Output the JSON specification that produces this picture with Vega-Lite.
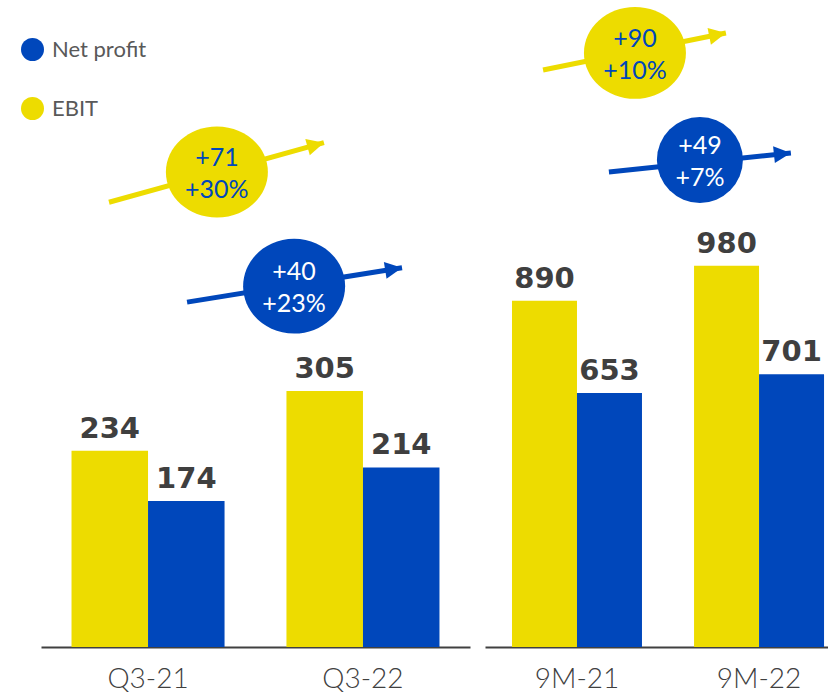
{
  "$schema": "https://vega.github.io/schema/vega-lite/v6.json",
  "background": "white",
  "padding": {"left": 21, "top": 0, "right": 0, "bottom": 0},
  "spacing": 15,
  "bounds": "flush",
  "config": {"view": {"stroke": null}},
  "datasets": {
    "bars": [
      {"panel": "Q3", "period": "Q3-21", "series": "EBIT", "value": 234},
      {"panel": "Q3", "period": "Q3-21", "series": "Net profit", "value": 174},
      {"panel": "Q3", "period": "Q3-22", "series": "EBIT", "value": 305},
      {"panel": "Q3", "period": "Q3-22", "series": "Net profit", "value": 214},
      {"panel": "9M", "period": "9M-21", "series": "EBIT", "value": 890},
      {"panel": "9M", "period": "9M-21", "series": "Net profit", "value": 653},
      {"panel": "9M", "period": "9M-22", "series": "EBIT", "value": 980},
      {"panel": "9M", "period": "9M-22", "series": "Net profit", "value": 701}
    ],
    "notes": [
      {"panel": "Q3", "series": "EBIT", "label": "+71\n+30%", "cx": 0.82, "cy": 566, "ax": 0.317, "ay": 530, "bx": 1.319, "by": 601},
      {"panel": "Q3", "series": "Net profit", "label": "+40\n+23%", "cx": 1.18, "cy": 430, "ax": 0.681, "ay": 411, "bx": 1.683, "by": 452},
      {"panel": "9M", "series": "EBIT", "label": "+90\n+10%", "cx": 0.824, "cy": 1527, "ax": 0.319, "ay": 1483, "bx": 1.324, "by": 1578},
      {"panel": "9M", "series": "Net profit", "label": "+49\n+7%", "cx": 1.181, "cy": 1252, "ax": 0.681, "ay": 1221, "bx": 1.681, "by": 1270}
    ]
  },
  "hconcat": [
    {
      "width": 429,
      "height": 647,
      "layer": [
        {
          "data": {"name": "bars"},
          "transform": [{"filter": "datum.panel === 'Q3'"}],
          "encoding": {
            "x": {"field": "period", "type": "nominal", "sort": null, "scale": {"paddingInner": 0.288, "paddingOuter": 0.142},
              "axis": {"title": null, "labelAngle": 0, "ticks": false, "domainColor": "#404040", "domainWidth": 2, "labelPadding": 18, "labelFont": "Lato", "labelFontWeight": 300, "labelFontSize": 28, "labelColor": "#404040"}},
            "xOffset": {"field": "series", "type": "nominal", "scale": {"domain": ["EBIT", "Net profit"], "paddingInner": 0, "paddingOuter": 0}},
            "y": {"field": "value", "type": "quantitative", "scale": {"domain": [0, 771], "nice": false, "zero": true}, "axis": null}
          },
          "layer": [
            {
              "mark": {"type": "bar"},
              "encoding": {
                "color": {"field": "series", "type": "nominal", "scale": {"domain": ["Net profit", "EBIT"], "range": ["#0047BB", "#EDDC00"]},
                  "legend": {"orient": "none", "legendX": -20, "legendY": 38, "title": null, "symbolType": "circle", "symbolSize": 529, "labelFont": "Lato", "labelFontSize": 22, "labelColor": "#595959", "labelOffset": 8, "rowPadding": 36, "padding": 0, "symbolStrokeWidth": 0, "direction": "vertical"}}
              }
            },
            {
              "mark": {"type": "text", "baseline": "alphabetic", "dy": -13, "font": "DejaVu Sans", "fontWeight": "bold", "fontSize": 29, "color": "#3f3f3f"},
              "encoding": {"text": {"field": "value", "type": "quantitative"}}
            }
          ]
        },
        {
          "data": {"name": "notes"},
          "transform": [{"filter": "datum.panel === 'Q3'"}],
          "layer": [
            {
              "mark": {"type": "rule", "strokeWidth": 5, "strokeCap": "butt"},
              "encoding": {
                "x": {"field": "ax", "type": "quantitative", "scale": {"domain": [0, 2], "nice": false, "zero": false}, "axis": null},
                "x2": {"field": "bx"},
                "y": {"field": "ay", "type": "quantitative", "scale": {"domain": [0, 771], "nice": false}, "axis": null},
                "y2": {"field": "by"},
                "color": {"condition": {"test": "datum.series === 'EBIT'", "value": "#EDDC00"}, "value": "#0047BB"}
              }
            },
            {
              "transform": [{"filter": "datum.series === 'EBIT'"}],
              "mark": {"type": "point", "filled": true, "shape": "M-2,-1L0,0L-2,1Z", "size": 289, "angle": 344.65, "color": "#EDDC00", "opacity": 1, "strokeWidth": 0},
              "encoding": {
                "x": {"field": "bx", "type": "quantitative", "scale": {"domain": [0, 2], "nice": false, "zero": false}, "axis": null},
                "y": {"field": "by", "type": "quantitative", "scale": {"domain": [0, 771], "nice": false}, "axis": null}
              }
            },
            {
              "transform": [{"filter": "datum.series === 'Net profit'"}],
              "mark": {"type": "point", "filled": true, "shape": "M-2,-1L0,0L-2,1Z", "size": 289, "angle": 351, "color": "#0047BB", "opacity": 1, "strokeWidth": 0},
              "encoding": {
                "x": {"field": "bx", "type": "quantitative", "scale": {"domain": [0, 2], "nice": false, "zero": false}, "axis": null},
                "y": {"field": "by", "type": "quantitative", "scale": {"domain": [0, 771], "nice": false}, "axis": null}
              }
            },
            {
              "transform": [{"filter": "datum.series === 'EBIT'"}],
              "mark": {"type": "point", "filled": true, "shape": "M-1,0A1,0.892,0,1,1,1,0A1,0.892,0,1,1,-1,0Z", "size": 10404, "color": "#EDDC00", "opacity": 1, "strokeWidth": 0},
              "encoding": {
                "x": {"field": "cx", "type": "quantitative", "scale": {"domain": [0, 2], "nice": false, "zero": false}, "axis": null},
                "y": {"field": "cy", "type": "quantitative", "scale": {"domain": [0, 771], "nice": false}, "axis": null}
              }
            },
            {
              "transform": [{"filter": "datum.series === 'Net profit'"}],
              "mark": {"type": "point", "filled": true, "shape": "M-1,0A1,0.93,0,1,1,1,0A1,0.93,0,1,1,-1,0Z", "size": 10404, "color": "#0047BB", "opacity": 1, "strokeWidth": 0},
              "encoding": {
                "x": {"field": "cx", "type": "quantitative", "scale": {"domain": [0, 2], "nice": false, "zero": false}, "axis": null},
                "y": {"field": "cy", "type": "quantitative", "scale": {"domain": [0, 771], "nice": false}, "axis": null}
              }
            },
            {
              "mark": {"type": "text", "font": "Lato", "fontSize": 25, "lineBreak": "\n", "lineHeight": 32, "baseline": "middle", "align": "center", "dy": -14},
              "encoding": {
                "x": {"field": "cx", "type": "quantitative", "scale": {"domain": [0, 2], "nice": false, "zero": false}, "axis": null},
                "y": {"field": "cy", "type": "quantitative", "scale": {"domain": [0, 771], "nice": false}, "axis": null},
                "text": {"field": "label"},
                "color": {"condition": {"test": "datum.series === 'EBIT'", "value": "#0047BB"}, "value": "white"}
              }
            }
          ]
        }
      ],
      "resolve": {"scale": {"x": "independent"}}
    },
    {
      "width": 343,
      "height": 647,
      "layer": [
        {
          "data": {"name": "bars"},
          "transform": [{"filter": "datum.panel === '9M'"}],
          "encoding": {
            "x": {"field": "period", "type": "nominal", "sort": null, "scale": {"paddingInner": 0.286, "paddingOuter": 0.085, "align": 0.872},
              "axis": {"title": null, "labelAngle": 0, "ticks": false, "domainColor": "#404040", "domainWidth": 2, "labelPadding": 18, "labelFont": "Lato", "labelFontWeight": 300, "labelFontSize": 28, "labelColor": "#404040"}},
            "xOffset": {"field": "series", "type": "nominal", "scale": {"domain": ["EBIT", "Net profit"], "paddingInner": 0, "paddingOuter": 0}},
            "y": {"field": "value", "type": "quantitative", "scale": {"domain": [0, 1663], "nice": false, "zero": true}, "axis": null}
          },
          "layer": [
            {
              "mark": {"type": "bar"},
              "encoding": {
                "color": {"field": "series", "type": "nominal", "scale": {"domain": ["Net profit", "EBIT"], "range": ["#0047BB", "#EDDC00"]},
                  "legend": {"orient": "none", "legendX": -20, "legendY": 38, "title": null, "symbolType": "circle", "symbolSize": 529, "labelFont": "Lato", "labelFontSize": 22, "labelColor": "#595959", "labelOffset": 8, "rowPadding": 36, "padding": 0, "symbolStrokeWidth": 0, "direction": "vertical"}}
              }
            },
            {
              "mark": {"type": "text", "baseline": "alphabetic", "dy": -13, "font": "DejaVu Sans", "fontWeight": "bold", "fontSize": 29, "color": "#3f3f3f"},
              "encoding": {"text": {"field": "value", "type": "quantitative"}}
            }
          ]
        },
        {
          "data": {"name": "notes"},
          "transform": [{"filter": "datum.panel === '9M'"}],
          "layer": [
            {
              "mark": {"type": "rule", "strokeWidth": 5, "strokeCap": "butt"},
              "encoding": {
                "x": {"field": "ax", "type": "quantitative", "scale": {"domain": [0, 1.885], "nice": false, "zero": false}, "axis": null},
                "x2": {"field": "bx"},
                "y": {"field": "ay", "type": "quantitative", "scale": {"domain": [0, 1663], "nice": false}, "axis": null},
                "y2": {"field": "by"},
                "color": {"condition": {"test": "datum.series === 'EBIT'", "value": "#EDDC00"}, "value": "#0047BB"}
              }
            },
            {
              "transform": [{"filter": "datum.series === 'EBIT'"}],
              "mark": {"type": "point", "filled": true, "shape": "M-2,-1L0,0L-2,1Z", "size": 289, "angle": 348.57, "color": "#EDDC00", "opacity": 1, "strokeWidth": 0},
              "encoding": {
                "x": {"field": "bx", "type": "quantitative", "scale": {"domain": [0, 1.885], "nice": false, "zero": false}, "axis": null},
                "y": {"field": "by", "type": "quantitative", "scale": {"domain": [0, 1663], "nice": false}, "axis": null}
              }
            },
            {
              "transform": [{"filter": "datum.series === 'Net profit'"}],
              "mark": {"type": "point", "filled": true, "shape": "M-2,-1L0,0L-2,1Z", "size": 289, "angle": 354.04, "color": "#0047BB", "opacity": 1, "strokeWidth": 0},
              "encoding": {
                "x": {"field": "bx", "type": "quantitative", "scale": {"domain": [0, 1.885], "nice": false, "zero": false}, "axis": null},
                "y": {"field": "by", "type": "quantitative", "scale": {"domain": [0, 1663], "nice": false}, "axis": null}
              }
            },
            {
              "transform": [{"filter": "datum.series === 'EBIT'"}],
              "mark": {"type": "point", "filled": true, "shape": "M-1,0A1,0.9,0,1,1,1,0A1,0.9,0,1,1,-1,0Z", "size": 10404, "color": "#EDDC00", "opacity": 1, "strokeWidth": 0},
              "encoding": {
                "x": {"field": "cx", "type": "quantitative", "scale": {"domain": [0, 1.885], "nice": false, "zero": false}, "axis": null},
                "y": {"field": "cy", "type": "quantitative", "scale": {"domain": [0, 1663], "nice": false}, "axis": null}
              }
            },
            {
              "transform": [{"filter": "datum.series === 'Net profit'"}],
              "mark": {"type": "point", "filled": true, "shape": "circle", "size": 7396, "color": "#0047BB", "opacity": 1, "strokeWidth": 0},
              "encoding": {
                "x": {"field": "cx", "type": "quantitative", "scale": {"domain": [0, 1.885], "nice": false, "zero": false}, "axis": null},
                "y": {"field": "cy", "type": "quantitative", "scale": {"domain": [0, 1663], "nice": false}, "axis": null}
              }
            },
            {
              "mark": {"type": "text", "font": "Lato", "fontSize": 25, "lineBreak": "\n", "lineHeight": 32, "baseline": "middle", "align": "center", "dy": -14},
              "encoding": {
                "x": {"field": "cx", "type": "quantitative", "scale": {"domain": [0, 1.885], "nice": false, "zero": false}, "axis": null},
                "y": {"field": "cy", "type": "quantitative", "scale": {"domain": [0, 1663], "nice": false}, "axis": null},
                "text": {"field": "label"},
                "color": {"condition": {"test": "datum.series === 'EBIT'", "value": "#0047BB"}, "value": "white"}
              }
            }
          ]
        }
      ],
      "resolve": {"scale": {"x": "independent"}}
    }
  ],
  "resolve": {"scale": {"x": "independent", "y": "independent", "xOffset": "independent", "color": "shared"}}
}
